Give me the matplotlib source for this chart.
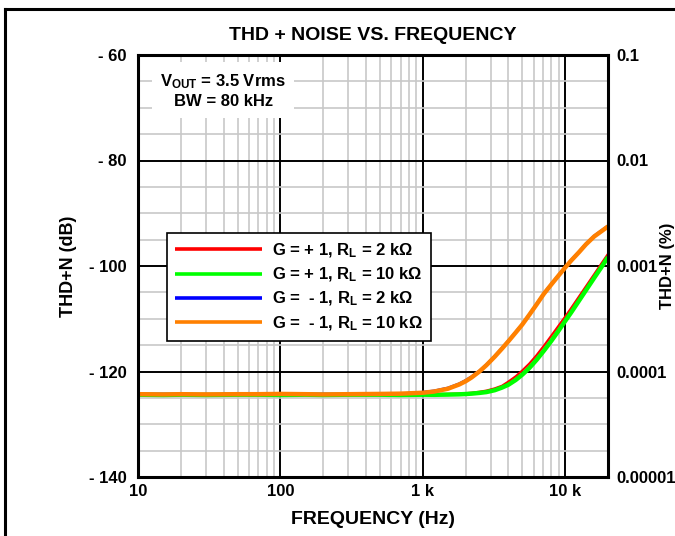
import matplotlib
matplotlib.use("Agg")
import matplotlib.pyplot as plt
from matplotlib.lines import Line2D
from matplotlib.ticker import FixedLocator, NullFormatter

FONT = ['Liberation Sans Narrow', 'Liberation Sans', 'DejaVu Sans']
plt.rcParams['font.family'] = FONT
plt.rcParams['font.weight'] = 'bold'
plt.rcParams['mathtext.default'] = 'regular'

# ---------------- data ----------------
freq = [10, 15, 20, 30, 50, 70, 100, 150, 200, 300, 500, 700, 1000, 1200, 1500,
        1800, 2000, 2200, 2500, 2800, 3200, 3600, 4000, 4500, 5000, 5600, 6300,
        7100, 8000, 9000, 10000, 11000, 12500, 14000, 16000, 18000, 20000]

g_pos1_rl2k = [-124.25, -124.3, -124.35, -124.25, -124.3, -124.35, -124.3, -124.25, -124.3,
               -124.35, -124.3, -124.25, -124.3, -124.28, -124.24,
               -124.18, -124.12, -124.02, -123.84, -123.62, -123.2, -122.7, -121.9,
               -120.9, -119.8, -118.5, -116.9,
               -115.1, -113.2, -111.3, -109.6, -108.0, -105.8, -103.85, -101.55, -99.5, -97.7]
g_pos1_rl10k = [-124.4, -124.45, -124.4, -124.45, -124.4, -124.4, -124.45, -124.4, -124.45,
                -124.4, -124.4, -124.45, -124.4, -124.42, -124.38,
                -124.33, -124.27, -124.2, -124.06, -123.9, -123.55, -123.05, -122.5,
                -121.6, -120.6, -119.35, -117.8,
                -116.05, -114.2, -112.25, -110.45, -108.85, -106.6, -104.6, -102.25, -100.2, -98.3]
g_neg1_rl2k = [-124.25, -124.2, -124.25, -124.3, -124.2, -124.25, -124.2, -124.25, -124.2,
               -124.25, -124.2, -124.15, -123.85, -123.6, -123.05,
               -122.25, -121.6, -120.9, -119.8, -118.6, -117.0, -115.45, -114.05,
               -112.4, -110.9, -109.1, -107.1,
               -105.05, -103.3, -101.6, -100.1, -98.8, -97.2, -95.7, -94.2, -93.2, -92.3]
g_neg1_rl10k = [-124.3, -124.35, -124.3, -124.35, -124.3, -124.3, -124.25, -124.3, -124.35,
                -124.3, -124.25, -124.2, -124.03, -123.8, -123.27,
                -122.47, -121.85, -121.14, -120.0, -118.8, -117.2, -115.67, -114.25,
                -112.6, -111.1, -109.26, -107.3,
                -105.25, -103.5, -101.8, -100.3, -99.0, -97.4, -95.9, -94.4, -93.4, -92.5]

series_labels = [r"G = + 1, R$_{L}$ = 2 k$\Omega$",
                 r"G = + 1, R$_{L}$ = 10 k$\Omega$",
                 r"G =  - 1, R$_{L}$ = 2 k$\Omega$",
                 r"G =  - 1, R$_{L}$ = 10 k$\Omega$"]
series_colors = ['#ff0000', '#00ff00', '#0000ff', '#ff8000']
series_widths = [1.6, 3.2, 1.4, 3.2]

db_ticks = [-60, -80, -100, -120, -140]
db_tick_labels = ['- 60', '- 80', '- 100', '- 120', '- 140']
pct_tick_labels = ['0.1', '0.01', '0.001', '0.0001', '0.00001']
x_ticks = [10, 100, 1000, 10000]
x_tick_labels = ['10', '100', '1 k', '10 k']

# ---------------- figure ----------------
fig = plt.figure(figsize=(6.75, 5.36), dpi=100)
ax = fig.add_axes([138/675, 1-477/536, 470/675, 422/536])

series = [g_pos1_rl2k, g_pos1_rl10k, g_neg1_rl2k, g_neg1_rl10k]
for vals, lab, col, lw in zip(series, series_labels, series_colors, series_widths):
    ax.plot(freq, vals, color=col, lw=lw, label=lab, solid_capstyle='butt', zorder=3)

ax.set_xscale('log')
ax.set_xlim(10, 20000)
ax.set_ylim(-140, -60)

ax.xaxis.set_major_locator(FixedLocator(x_ticks))
ax.set_xticklabels(x_tick_labels)
minor_x = [m * d for d in [10, 100, 1000] for m in range(2, 10)]
ax.xaxis.set_minor_locator(FixedLocator(minor_x))
ax.xaxis.set_minor_formatter(NullFormatter())

ax.set_yticks(db_ticks)
ax.set_yticklabels(db_tick_labels)
ax.set_yticks([v for v in range(-135, -60, 5) if v % 20 != 0], minor=True)

ax.grid(which='minor', color='#c8c8c8', lw=1.2, zorder=0)
ax.grid(which='major', color='black', lw=1.4, zorder=1)
ax.set_axisbelow(True)

ax.tick_params(which='both', length=0)
ax.tick_params(axis='y', pad=8, labelsize=12)
ax.tick_params(axis='x', pad=5, labelsize=12)
for s in ax.spines.values():
    s.set_linewidth(2.2)
    s.set_zorder(5)

ax.set_xlabel('FREQUENCY (Hz)', fontsize=14, fontweight='bold', labelpad=9)
ax.set_ylabel('THD+N (dB)', fontsize=13, fontweight='bold', labelpad=9)

ax2 = ax.twinx()
ax2.set_ylim(-140, -60)
ax2.set_yticks(db_ticks)
ax2.set_yticklabels(pct_tick_labels)
ax2.tick_params(length=0, pad=6, labelsize=12)
for s in ax2.spines.values():
    s.set_visible(False)

fig.text(667.5/675, 1-266/536, 'THD+N (%)', rotation=90, ha='center', va='center',
         fontsize=12, fontweight='bold')

ax.set_title('THD + NOISE VS. FREQUENCY', fontsize=14, fontweight='bold', pad=11)

ax.text(0.181, 0.915, 'V$_{OUT}$ = 3.5 Vrms\nBW = 80 kHz', transform=ax.transAxes,
        ha='center', va='center', fontsize=12, fontweight='bold', linespacing=1.25,
        bbox=dict(facecolor='white', edgecolor='none', pad=6), zorder=4)

leg = ax.legend(loc='upper left', bbox_to_anchor=(0.0617, 0.578), fontsize=12,
                handlelength=5.2, labelspacing=0.35, borderpad=0.5, handletextpad=0.6,
                borderaxespad=0, fancybox=False, framealpha=1, edgecolor='black')
leg.get_frame().set_linewidth(1.2)
leg.set_zorder(6)
for ln in leg.get_lines():
    ln.set_linewidth(2.6)

# outer border lines
fig.add_artist(Line2D([5/675, 5/675], [0, 1-8.5/536], transform=fig.transFigure,
                      color='black', lw=2.2))
fig.add_artist(Line2D([5/675, 1], [1-8.5/536, 1-8.5/536], transform=fig.transFigure,
                      color='black', lw=2.2))

fig.savefig('out.png', dpi=100)
